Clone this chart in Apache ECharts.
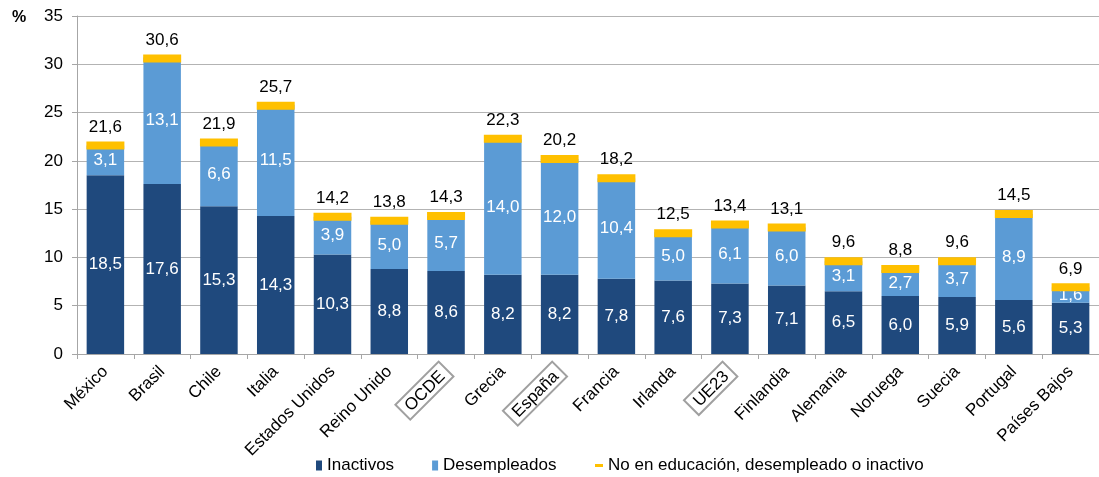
<!DOCTYPE html>
<html><head><meta charset="utf-8">
<script src="https://cdn.jsdelivr.net/npm/echarts@6/dist/echarts.min.js"></script>
<style>html,body{margin:0;padding:0;background:#fff}#c{width:1099px;height:477px}</style>
</head><body><div id="c"></div>
<script>
const categories = ['México','Brasil','Chile','Italia','Estados Unidos','Reino Unido','OCDE','Grecia','España','Francia','Irlanda','UE23','Finlandia','Alemania','Noruega','Suecia','Portugal','Países Bajos'];
const inactivos = [18.5,17.6,15.3,14.3,10.3,8.8,8.6,8.2,8.2,7.8,7.6,7.3,7.1,6.5,6.0,5.9,5.6,5.3];
const desempleados = [3.1,13.1,6.6,11.5,3.9,5.0,5.7,14.0,12.0,10.4,5.0,6.1,6.0,3.1,2.7,3.7,8.9,1.6];
const totales = [21.6,30.6,21.9,25.7,14.2,13.8,14.3,22.3,20.2,18.2,12.5,13.4,13.1,9.6,8.8,9.6,14.5,6.9];
const boxed = ['OCDE','España','UE23'];
const yTicks = [0,5,10,15,20,25,30,35];

const FONT = '"Liberation Sans", Arial, sans-serif';
const fmt = v => v.toFixed(1).replace('.', ',');
const NAME3 = 'No en educación, desempleado o inactivo';

const chart = echarts.init(document.getElementById('c'), null, {renderer:'canvas'});
chart.setOption({
  animation:false,
  textStyle:{fontFamily:FONT},
  title:{text:'%', left:12, top:10, padding:0, textStyle:{fontFamily:FONT, fontSize:16, fontWeight:'bold', color:'#000'}},
  grid:{left:77, right:-9, top:16, bottom:123, containLabel:false},
  legend:[
    {
      left:316, top:457, padding:0, itemWidth:6, itemHeight:10, itemGap:38,
      textStyle:{fontFamily:FONT, fontSize:17, color:'#000'},
      data:[{name:'Inactivos', icon:'rect'},{name:'Desempleados', icon:'rect'}]
    },
    {
      left:595, top:457, padding:0, itemWidth:8, itemHeight:3,
      textStyle:{fontFamily:FONT, fontSize:17, color:'#000'},
      data:[{name:NAME3, icon:'rect'}]
    }
  ],
  xAxis:{
    type:'category', data:categories,
    axisLine:{lineStyle:{color:'#A6A6A6', width:1}},
    axisTick:{show:true, alignWithLabel:false, length:5, lineStyle:{color:'#A6A6A6'}},
    axisLabel:{
      interval:0, rotate:45, margin:15, fontFamily:FONT, fontSize:17, color:'#000',
      formatter: v => boxed.includes(v) ? '{b|' + v + '}' : v,
      rich:{b:{fontFamily:FONT, fontSize:17, color:'#000', borderColor:'#A0A0A0', borderWidth:2, padding:[3,6,1,6]}}
    }
  },
  yAxis:{
    type:'value', min:0, max:35, interval:5,
    axisLine:{show:true, lineStyle:{color:'#A6A6A6'}},
    axisTick:{show:true, length:5, lineStyle:{color:'#A6A6A6'}},
    axisLabel:{margin:14, fontFamily:FONT, fontSize:17, color:'#000',
      formatter: v => yTicks.includes(v) ? String(v) : ''},
    splitLine:{lineStyle:{color:'#B3B3B3', width:1}}
  },
  series:[
    {name:'Inactivos', type:'bar', stack:'a', data:inactivos, barCategoryGap:'34%',
     itemStyle:{color:'#1F497D'},
     label:{show:true, position:'inside', color:'#fff', fontFamily:FONT, fontSize:17, formatter:p=>fmt(p.value)}},
    {name:'Desempleados', type:'bar', stack:'a', data:desempleados,
     itemStyle:{color:'#5B9BD5'},
     label:{show:true, position:'inside', color:'#fff', fontFamily:FONT, fontSize:17, formatter:p=>fmt(p.value)}},
    {name:NAME3, type:'scatter', data:totales.map((t,i)=>[categories[i], t]),
     symbol:'rect', symbolSize:[38,8], itemStyle:{color:'#FFC000', opacity:1, borderWidth:0}, z:5,
     emphasis:{disabled:true},
     label:{show:true, position:'top', distance:6, color:'#000', fontFamily:FONT, fontSize:17, formatter:p=>fmt(p.value[1])}}
  ]
});
</script></body></html>
